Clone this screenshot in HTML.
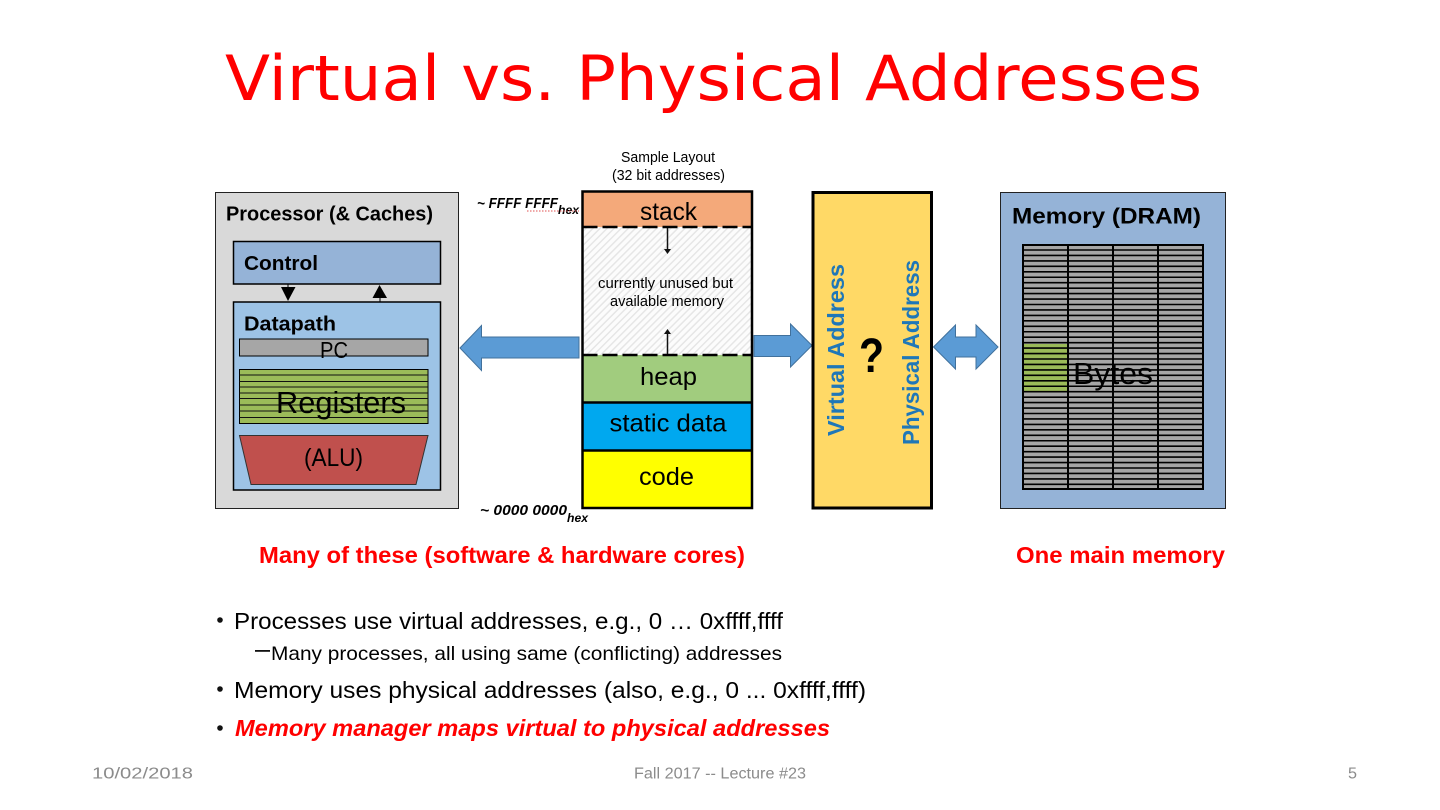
<!DOCTYPE html>
<html><head><meta charset="utf-8"><title>Virtual vs. Physical Addresses</title>
<style>
html,body{margin:0;padding:0;background:#fff}
svg{display:block}
text{font-family:"Liberation Sans",sans-serif;fill:#000}
.b{font-weight:bold}
.d{filter:blur(.3px)}
</style></head><body>
<svg width="1440" height="810" viewBox="0 0 1440 810" xmlns="http://www.w3.org/2000/svg">
<defs>
<pattern id="h" width="5" height="5" patternUnits="userSpaceOnUse" patternTransform="rotate(-45)">
<rect width="5" height="5" fill="#fcfcfc"/><rect width="5" height="1.5" fill="#e6e6e6"/>
</pattern>
</defs>
<text x="225" y="100" font-size="62" textLength="977" lengthAdjust="spacingAndGlyphs" style="font-family:'DejaVu Sans',sans-serif;fill:#f00">Virtual vs. Physical Addresses</text>

<g class="d">
<!-- Processor -->
<rect x="215.5" y="192.5" width="243" height="316" fill="#d9d9d9" stroke="#222" stroke-width="1"/>
<text class="b" x="226" y="220.500" font-size="20.500" textLength="207" lengthAdjust="spacingAndGlyphs">Processor (&amp; Caches)</text>
<rect x="233.5" y="241.5" width="207" height="42.5" fill="#95b3d7" stroke="#000" stroke-width="1.5"/>
<text class="b" x="244" y="270" font-size="20.500" textLength="74" lengthAdjust="spacingAndGlyphs">Control</text>
<path d="M288 284V288" stroke="#000" stroke-width="1"/>
<polygon points="281,287 295.5,287 288,301" fill="#000"/>
<polygon points="372.5,298 387,298 379.5,285" fill="#000"/>
<path d="M380 298V302" stroke="#000" stroke-width="1"/>
<rect x="233.5" y="302" width="207" height="188" fill="#9dc3e6" stroke="#000" stroke-width="1.5"/>
<text class="b" x="244" y="330.500" font-size="20.500" textLength="92" lengthAdjust="spacingAndGlyphs">Datapath</text>
<rect x="239.5" y="339" width="188.5" height="17" fill="#a6a6a6" stroke="#000" stroke-width="1"/>
<text x="320" y="358" font-size="23" textLength="28" lengthAdjust="spacingAndGlyphs">PC</text>
<rect x="239.5" y="369.5" width="188.5" height="54" fill="#9bbb59" stroke="#000" stroke-width="1"/>
<path d="M239.5 375H428M239.5 381.5H428M239.5 387H428M239.5 393H428M239.5 398.500H428M239.5 405H428M239.5 411H428M239.5 417.500H428" stroke="#111" stroke-width="1"/>
<text x="276" y="413" font-size="31" textLength="130" lengthAdjust="spacingAndGlyphs">Registers</text>
<polygon points="239.500,435.500 428,435.500 416,484.500 251,484.500" fill="#c0504d" stroke="#333" stroke-width="1"/>
<text x="304" y="466" font-size="25" textLength="59" lengthAdjust="spacingAndGlyphs">(ALU)</text>

<!-- Arrows -->
<polygon points="460,348 481.500,325.500 481.500,337 579,337 579,358 481.500,358 481.500,370.500" fill="#5b9bd5" stroke="#41719c" stroke-width="1"/>
<polygon points="754,335.500 790.500,335.500 790.500,324 812,345.500 790.500,367 790.500,356.500 754,356.500" fill="#5b9bd5" stroke="#41719c" stroke-width="1"/>
<polygon points="933.500,347 955.500,325 955.500,337 976,337 976,325 998,347 976,369 976,357 955.500,357 955.500,369" fill="#5b9bd5" stroke="#41719c" stroke-width="1"/>

<!-- Layout column -->
<text x="621" y="162" font-size="14.500" textLength="94" lengthAdjust="spacingAndGlyphs">Sample Layout</text>
<text x="612" y="180" font-size="14.500" textLength="113" lengthAdjust="spacingAndGlyphs">(32 bit addresses)</text>
<rect x="582.500" y="192" width="169.500" height="35" fill="#f4a97a"/>
<rect x="582.500" y="227" width="169.500" height="128" fill="url(#h)"/>
<rect x="582.500" y="355" width="169.500" height="47" fill="#a1cc7e"/>
<rect x="582.500" y="402" width="169.500" height="48" fill="#00a8ef"/>
<rect x="582.500" y="450" width="169.500" height="58" fill="#ffff00"/>
<path d="M582.500 402.500H752M582.500 450.500H752" stroke="#000" stroke-width="2.500"/>
<path d="M582.500 227H752M582.500 355H752" stroke="#000" stroke-width="2.500" stroke-dasharray="15 5"/>
<rect x="582.500" y="191.500" width="169.500" height="316.500" fill="none" stroke="#000" stroke-width="2.500"/>
<text x="640" y="220" font-size="25" textLength="57" lengthAdjust="spacingAndGlyphs">stack</text>
<text x="640" y="385" font-size="25" textLength="57" lengthAdjust="spacingAndGlyphs">heap</text>
<text x="609.500" y="431.500" font-size="25" textLength="117" lengthAdjust="spacingAndGlyphs">static data</text>
<text x="639" y="485" font-size="25" textLength="55" lengthAdjust="spacingAndGlyphs">code</text>
<text x="598" y="288" font-size="14.500" textLength="135" lengthAdjust="spacingAndGlyphs">currently unused but</text>
<text x="610" y="306" font-size="14.500" textLength="114" lengthAdjust="spacingAndGlyphs">available memory</text>
<path d="M667.500 228V250" stroke="#111" stroke-width="1.500"/>
<polygon points="664,249 671,249 667.500,254" fill="#111"/>
<path d="M667.500 354V333" stroke="#111" stroke-width="1.500"/>
<polygon points="664,334 671,334 667.500,329" fill="#111"/>
<text class="b" x="477" y="208" font-size="14.500" font-style="italic" textLength="81" lengthAdjust="spacingAndGlyphs">~ FFFF FFFF</text>
<text class="b" x="558" y="214" font-size="12" font-style="italic" textLength="21" lengthAdjust="spacingAndGlyphs">hex</text>
<path d="M527 211H579" stroke="#e05050" stroke-width="1" stroke-dasharray="1.500 1.500"/>
<text class="b" x="480" y="515" font-size="14.500" font-style="italic" textLength="87" lengthAdjust="spacingAndGlyphs">~ 0000 0000</text>
<text class="b" x="567" y="522" font-size="12" font-style="italic" textLength="21" lengthAdjust="spacingAndGlyphs">hex</text>

<!-- Translation box -->
<rect x="813" y="192.500" width="118.500" height="315.500" fill="#ffd966" stroke="#000" stroke-width="3"/>
<text class="b" x="859" y="372" font-size="48" textLength="25" lengthAdjust="spacingAndGlyphs">?</text>
<text class="b" transform="translate(844,436) rotate(-90)" font-size="23" textLength="172" lengthAdjust="spacingAndGlyphs" style="fill:#1f77b8">Virtual Address</text>
<text class="b" transform="translate(919,445) rotate(-90)" font-size="23" textLength="185" lengthAdjust="spacingAndGlyphs" style="fill:#1f77b8">Physical Address</text>

<!-- Memory -->
<rect x="1000.500" y="192.500" width="225" height="316" fill="#95b3d7" stroke="#222" stroke-width="1"/>
<text class="b" x="1012" y="223.500" font-size="22.500" textLength="189" lengthAdjust="spacingAndGlyphs">Memory (DRAM)</text>
<rect x="1023" y="245" width="180" height="244" fill="#a6a6a6"/>
<rect x="1023.500" y="344" width="44" height="48" fill="#9bbb59"/>
<line x1="1113" y1="249.200" x2="1113" y2="489" stroke="#000" stroke-width="180" stroke-dasharray="1.600 3.850"/>
<path d="M1068 245V489M1113 245V489M1158 245V489" stroke="#000" stroke-width="2"/>
<rect x="1023" y="245" width="180" height="244" fill="none" stroke="#000" stroke-width="2"/>
<text x="1073" y="384" font-size="31" textLength="80" lengthAdjust="spacingAndGlyphs">Bytes</text>
</g>

<!-- Captions -->
<text class="b" x="259" y="563" font-size="23" textLength="486" lengthAdjust="spacingAndGlyphs" style="fill:#f00">Many of these (software &amp; hardware cores)</text>
<text class="b" x="1016" y="563" font-size="23" textLength="209" lengthAdjust="spacingAndGlyphs" style="fill:#f00">One main memory</text>

<!-- Bullets -->
<circle cx="220" cy="620" r="2.800" fill="#111"/>
<text x="234" y="629" font-size="23" textLength="549" lengthAdjust="spacingAndGlyphs">Processes use virtual addresses, e.g., 0 … 0xffff,ffff</text>
<rect x="255" y="650" width="15" height="1.800" fill="#111"/>
<text x="271" y="660" font-size="19.500" textLength="511" lengthAdjust="spacingAndGlyphs">Many processes, all using same (conflicting) addresses</text>
<circle cx="220" cy="689" r="2.800" fill="#111"/>
<text x="234" y="698" font-size="23" textLength="632" lengthAdjust="spacingAndGlyphs">Memory uses physical addresses (also, e.g., 0 ... 0xffff,ffff)</text>
<circle cx="220" cy="728" r="2.800" fill="#111"/>
<text class="b" x="235" y="736" font-size="23" font-style="italic" textLength="595" lengthAdjust="spacingAndGlyphs" style="fill:#f00">Memory manager maps virtual to physical addresses</text>

<!-- Footer -->
<text x="92" y="778.500" font-size="15.500" textLength="101" lengthAdjust="spacingAndGlyphs" style="fill:#8b8b8b">10/02/2018</text>
<text x="634" y="778.500" font-size="15.500" textLength="172" lengthAdjust="spacingAndGlyphs" style="fill:#8b8b8b">Fall 2017 -- Lecture #23</text>
<text x="1348" y="778.500" font-size="15.500" textLength="9" lengthAdjust="spacingAndGlyphs" style="fill:#8b8b8b">5</text>
</svg>
</body></html>
